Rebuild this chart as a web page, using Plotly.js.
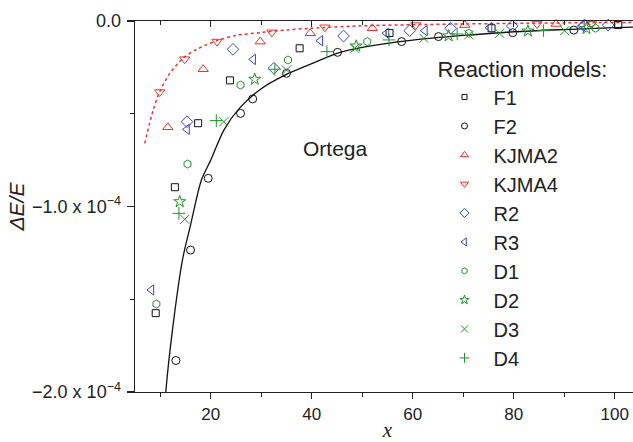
<!DOCTYPE html>
<html>
<head>
<meta charset="utf-8">
<script src="https://cdn.plot.ly/plotly-3.0.1.min.js"></script>
<style>
html,body{margin:0;padding:0;overflow:hidden;background:#fff;}
#chart{width:645px;height:442px;}
</style>
</head>
<body>
<div id="chart"></div>
<script>
// values of y are in units of 1e-4
const seriesNames = ["F1","F2","KJMA2","KJMA4","R2","R3","D1","D2","D3","D4"];

const F1_x = [9.1, 12.9, 17.5, 23.8, 37.6, 55.4, 75.6, 100.7];
const F1_y = [-1.575, -0.896, -0.551, -0.32, -0.147, -0.065, -0.039, -0.022];

const F2_x = [13.1, 16.0, 19.5, 25.9, 28.3, 35.0, 45.1, 57.8, 65.1, 79.8, 91.9];
const F2_y = [-1.83, -1.235, -0.848, -0.498, -0.42, -0.282, -0.169, -0.111, -0.084, -0.063, -0.049];

const KJMA2_x = [11.5, 18.5, 29.8, 39.7, 52.0, 70.3, 88.4];
const KJMA2_y = [-0.573, -0.26, -0.111, -0.066, -0.039, -0.022, -0.016];

const KJMA4_x = [9.9, 14.85, 21.25, 32.1, 42.6, 60.6, 84.6, 95.4];
const KJMA4_y = [-0.383, -0.206, -0.111, -0.061, -0.034, -0.022, -0.016, -0.016];

const R2_x = [15.3, 24.4, 32.5, 46.3, 59.4, 67.5, 79.7, 94.0, 98.7];
const R2_y = [-0.543, -0.153, -0.255, -0.081, -0.052, -0.039, -0.027, -0.022, -0.022];

const R3_x = [8.25, 15.3, 28.4, 41.7, 54.8, 62.4, 75.2, 93.5];
const R3_y = [-1.45, -0.584, -0.207, -0.106, -0.066, -0.052, -0.036, -0.027];

const D1_x = [9.24, 15.4, 25.9, 35.3, 51.0, 71.1, 96.2];
const D1_y = [-1.526, -0.771, -0.345, -0.21, -0.111, -0.066, -0.039];

const D2_x = [13.86, 28.7, 48.8, 67.1, 82.8, 94.4];
const D2_y = [-0.974, -0.314, -0.135, -0.08, -0.054, -0.04];

const D3_x = [14.85, 22.6, 35.0, 48.5, 62.2, 71.1, 77.2, 90.1];
const D3_y = [-1.069, -0.543, -0.264, -0.147, -0.093, -0.075, -0.066, -0.052];

const D4_x = [13.7, 21.1, 32.7, 43.0, 55.3, 68.8, 85.9];
const D4_y = [-1.037, -0.537, -0.26, -0.165, -0.102, -0.07, -0.052];

// fitted curves
const fitF2_x = [11.0, 11.1, 12.5, 14.4, 16, 18.15, 20, 22.6, 25.7, 30, 35, 40, 45, 50, 60, 70, 80, 90, 100, 105];
const fitF2_y = [-2.05, -2.0, -1.648, -1.288, -1.1, -0.857, -0.75, -0.588, -0.47, -0.365, -0.288, -0.23, -0.174, -0.142, -0.103, -0.078, -0.058, -0.046, -0.036, -0.032];

const fitK4_x = [6.93, 8.6, 9.9, 11.9, 14.5, 17.2, 21.2, 25, 30, 35, 40, 50, 60, 70, 80, 90, 100, 105];
const fitK4_y = [-0.66, -0.48, -0.381, -0.282, -0.201, -0.153, -0.106, -0.078, -0.062, -0.048, -0.039, -0.026, -0.02, -0.016, -0.013, -0.01, -0.008, -0.007];

const yTickVals = [0, -1, -2];
const yTickText = ["0.0", "\u22121.0 x 10<sup>\u22124</sup>", "\u22122.0 x 10<sup>\u22124</sup>"];

const BLACK = "#111111", RED = "#e8332e", BLUE = "#3448c0", GREEN = "#1f9426";

const seriesDefs = [
  ["F1", F1_x, F1_y, "square-open", BLACK, 7],
  ["F2", F2_x, F2_y, "circle-open", BLACK, 8],
  ["KJMA2", KJMA2_x, KJMA2_y, "triangle-up-open", RED, 9],
  ["KJMA4", KJMA4_x, KJMA4_y, "triangle-down-open", RED, 9],
  ["R2", R2_x, R2_y, "diamond-open", BLUE, 9],
  ["R3", R3_x, R3_y, "triangle-left-open", BLUE, 9],
  ["D1", D1_x, D1_y, "hexagon-open", GREEN, 8],
  ["D2", D2_x, D2_y, "star-open", GREEN, 9],
  ["D3", D3_x, D3_y, "x-thin-open", GREEN, 9],
  ["D4", D4_x, D4_y, "cross-thin-open", GREEN, 9]
];

const traces = [
  {type:"scatter", mode:"lines", x: fitF2_x, y: fitF2_y, showlegend:false, line:{color:BLACK, width:1.3, shape:"spline", smoothing:0.8}},
  {type:"scatter", mode:"lines", x: fitK4_x, y: fitK4_y, showlegend:false, line:{color:RED, width:1.5, dash:"dot", shape:"spline", smoothing:0.8}}
];
seriesDefs.forEach(([name, xs, ys, sym, col, sz]) => {
  traces.push({type:"scatter", mode:"markers", name:name, x:xs, y:ys, cliponaxis:false, showlegend:false,
    marker:{symbol:sym, size:sz, color:col, line:{color:col, width:1}}});
});
// legend entries with smaller symbols (no data drawn)
seriesDefs.forEach(([name, xs, ys, sym, col, sz]) => {
  traces.push({type:"scatter", mode:"markers", name:name, x:[null], y:[null], showlegend:true,
    marker:{symbol:sym, size:Math.max(5, sz-2), color:col, line:{color:col, width:1}}});
});
// invisible traces to carry mirror axes and the label axis
traces.push({type:"scatter", mode:"markers", x:[50], y:[-1], xaxis:"x2", yaxis:"y2", showlegend:false, hoverinfo:"skip", marker:{opacity:0}});
traces.push({type:"scatter", mode:"markers", x:[50], y:[-1], xaxis:"x", yaxis:"y3", showlegend:false, hoverinfo:"skip", marker:{opacity:0}});

const FONT = "Liberation Sans, Arial, sans-serif";
const XDOM = [20/525, 1];

const layout = {
  width: 645, height: 442,
  margin: {l: 115, r: 5, t: 21, b: 50},
  paper_bgcolor: "#fff", plot_bgcolor: "#fff",
  font: {family: FONT, size: 17, color: "#222"},
  showlegend: true,
  xaxis: {
    domain: XDOM,
    range: [5, 105], showgrid: false, zeroline: false,
    showline: true, linecolor: "#222", linewidth: 1.3,
    ticks: "outside", ticklen: 6, tickwidth: 1.2, tickcolor: "#222",
    tick0: 0, dtick: 20,
    minor: {dtick: 10, tick0: 0, ticks: "outside", ticklen: 4, tickwidth: 1.2, tickcolor: "#222"},
    tickfont: {size: 17},
    title: {text: "<i>x</i>", font: {family: "Liberation Serif, Times New Roman, serif", size: 21}, standoff: 4}
  },
  yaxis: {
    range: [-2, 0], showgrid: false, zeroline: false,
    showline: true, linecolor: "#222", linewidth: 1.3,
    ticks: "outside", ticklen: 7, tickwidth: 1.2, tickcolor: "#222",
    tickmode: "array", tickvals: yTickVals, showticklabels: false,
    minor: {tickmode: "array", tickvals: [-0.5, -1.5], ticks: "outside", ticklen: 4, tickwidth: 1.2, tickcolor: "#222"}
  },
  yaxis3: {
    overlaying: "y", anchor: "free", position: 6/525, side: "left", range: [-2, 0],
    showgrid: false, zeroline: false, showline: false, ticks: "",
    tickmode: "array", tickvals: yTickVals, ticktext: yTickText,
    tickfont: {size: 18},
    title: {text: "<i>\u0394E/E</i>", font: {size: 21}, standoff: 0}
  },
  xaxis2: {
    domain: XDOM,
    overlaying: "x", side: "top", matches: "x", range: [5, 105],
    showgrid: false, zeroline: false, showline: true, linecolor: "#222", linewidth: 1.3,
    ticks: "inside", ticklen: 6, tickwidth: 1.2, tickcolor: "#222", tick0: 0, dtick: 20, showticklabels: false,
    minor: {dtick: 10, tick0: 0, ticks: "inside", ticklen: 4, tickwidth: 1.2, tickcolor: "#222"}
  },
  yaxis2: {
    overlaying: "y", side: "right", range: [-2, 0],
    showgrid: false, zeroline: false, showline: true, linecolor: "#222", linewidth: 1.3,
    ticks: "inside", ticklen: 7, tickwidth: 1.2, tickcolor: "#222",
    tickmode: "array", tickvals: yTickVals, showticklabels: false
  },
  legend: {
    x: 0.6105, y: 0.925, xanchor: "left", yanchor: "top",
    bgcolor: "rgba(0,0,0,0)", borderwidth: 0,
    font: {family: FONT, size: 20, color: "#222"},
    title: {text: "Reaction models:", font: {family: FONT, size: 22, color: "#222"}},
    itemwidth: 48, tracegroupgap: 0
  },
  annotations: [
    {x: 44.8, y: -0.69, xref: "x", yref: "y", text: "Ortega", showarrow: false,
     font: {family: FONT, size: 21, color: "#222"}}
  ]
};

Plotly.newPlot("chart", traces, layout, {displayModeBar: false, staticPlot: true});
</script>
</body>
</html>
